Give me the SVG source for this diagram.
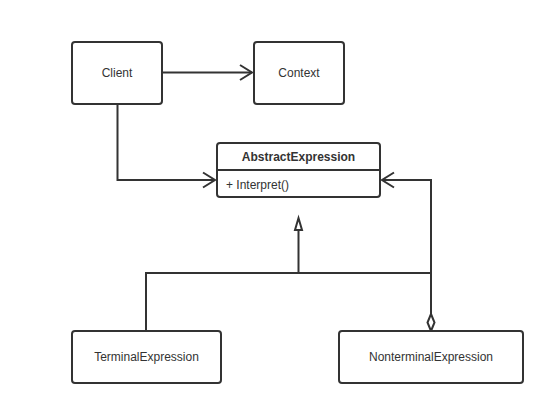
<svg xmlns="http://www.w3.org/2000/svg" width="559" height="408" viewBox="0 0 559 408">
<style>
.box{fill:#fff;stroke:#333;stroke-width:2}
.t{font-family:"Liberation Sans",Arial,sans-serif;font-size:12px;fill:#333}
.b{font-weight:bold}
.ln{fill:none;stroke:#333;stroke-width:2}
.ah{fill:none;stroke:#333;stroke-width:2}
</style>
<rect width="559" height="408" fill="#fff"/>
<g id="connectors">
  <path class="ln" d="M162,72.5 H252"/>
  <path class="ah" d="M240,65 L252,72.5 L240,80"/>
  <path class="ln" d="M117.5,104 V180 H215"/>
  <path class="ah" d="M203,172.5 L215,180 L203,187.5"/>
  <path class="ln" d="M431,314 V180 H382"/>
  <path class="ah" d="M394,172.5 L382,180 L394,187.5"/>
  <path class="ln" d="M146,330 V273 H431"/>
  <path class="ln" d="M298.5,230 V273"/>
  <path d="M298.5,218 L302,230 L295,230 Z" fill="#fff" stroke="#333" stroke-width="2" stroke-linejoin="miter"/>
  <path d="M431,314 L434.5,322.5 L431,331 L427.5,322.5 Z" fill="#fff" stroke="#333" stroke-width="2"/>
</g>
<g id="client">
  <rect class="box" x="72" y="42" width="90" height="62" rx="3"/>
  <text class="t" x="117" y="77" text-anchor="middle">Client</text>
</g>
<g id="context">
  <rect class="box" x="254" y="42" width="90" height="62" rx="3"/>
  <text class="t" x="299" y="77" text-anchor="middle">Context</text>
</g>
<g id="abstractexpression">
  <rect class="box" x="217" y="143" width="163" height="54" rx="3"/>
  <path class="ln" d="M217,170 H380"/>
  <text class="t b" x="298.5" y="161" text-anchor="middle">AbstractExpression</text>
  <text class="t" x="226" y="189">+ Interpret()</text>
</g>
<g id="terminalexpression">
  <rect class="box" x="72" y="331" width="149" height="52" rx="3"/>
  <text class="t" x="146.5" y="361" text-anchor="middle">TerminalExpression</text>
</g>
<g id="nonterminalexpression">
  <rect class="box" x="339" y="331" width="184" height="52" rx="3"/>
  <text class="t" x="431" y="361" text-anchor="middle">NonterminalExpression</text>
</g>
</svg>
